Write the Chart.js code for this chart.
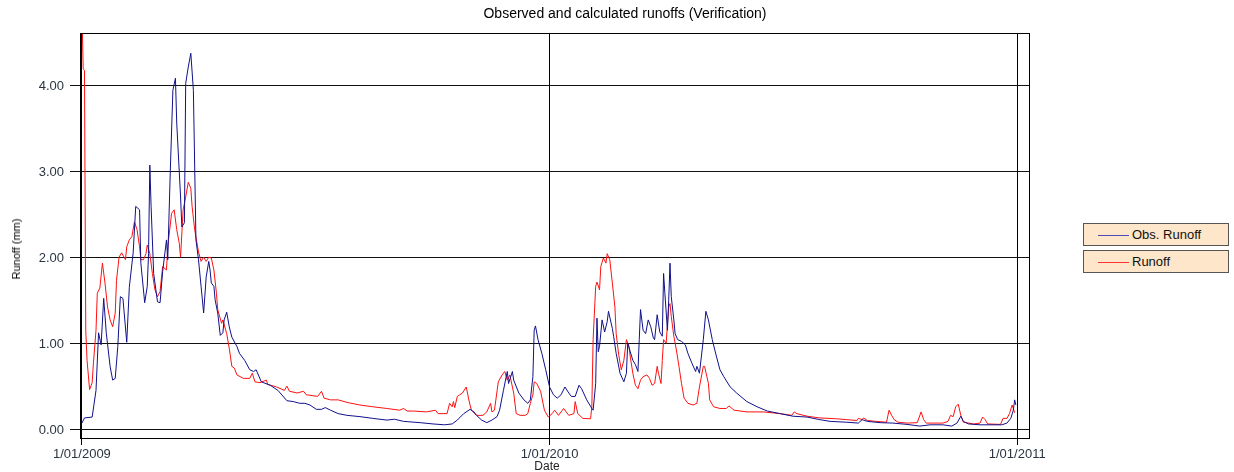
<!DOCTYPE html>
<html>
<head>
<script src="https://cdn.jsdelivr.net/npm/chart.js@4.4.1/dist/chart.umd.min.js"></script>
<style>
    body {
        margin: 0;
        background: #fff;
        font-family: "Liberation Sans", Arial, sans-serif;
    }
    #wrap {
        position: relative;
        width: 1234px;
        height: 472px;
    }
    #chart {
        position: absolute;
        left: 0;
        top: 0;
    }
    #title {
        position: absolute;
        left: 0;
        width: 1250px;
        top: 5px;
        text-align: center;
        font-size: 14px;
        color: #000;
    }
    #y-title {
        position: absolute;
        left: 16px;
        top: 249px;
        transform: translate(-50%, -50%) rotate(-90deg);
        font-size: 11px;
        white-space: nowrap;
        color: #000;
    }
    #x-title {
        position: absolute;
        left: 547px;
        top: 466px;
        transform: translate(-50%, -50%);
        font-size: 12px;
        color: #222;
    }
    .legend-item {
        position: absolute;
        left: 1083px;
        width: 144px;
        height: 21px;
        background: #fde6c9;
        border: 1px solid #555;
        font-size: 13px;
        color: #111;
        line-height: 21px;
    }
    .legend-item span.line {
        display: inline-block;
        width: 31px;
        height: 1px;
        margin: 0 3px 0 14px;
        vertical-align: middle;
    }
</style>
</head>
<body>
<div id="wrap">
    <canvas id="chart" width="1234" height="472"></canvas>
    <div id="title">Observed and calculated runoffs (Verification)</div>
    <div id="y-title">Runoff (mm)</div>
    <div id="x-title">Date</div>
    <div class="legend-item" style="top:223px"><span class="line" style="background:#4a4ab4"></span>Obs. Runoff</div>
    <div class="legend-item" style="top:250px"><span class="line" style="background:#ff3030"></span>Runoff</div>
</div>
<script>
// days counted from 1 Jan 2009
const tickDays = [0, 365, 730];
const tickLabels = ['1/01/2009', '1/01/2010', '1/01/2011'];
const yTicks = [0, 1, 2, 3, 4];

// observed runoff (mm)
const obsDays = [
    0, 2, 8, 11, 13, 15, 17, 19, 22, 24, 26, 28, 30, 32, 35, 37, 40, 42, 45, 46,
    49, 51, 52, 53, 54, 56, 59, 61, 63, 66, 67, 69, 71, 73, 74, 77, 78, 80, 81, 83,
    85, 87, 89, 91, 93, 95, 97, 99, 100, 101, 103, 104, 106, 108, 110, 111, 113, 115, 117, 121,
    123, 127, 131, 134, 136, 140, 147, 153, 160, 165, 170, 174, 178, 183, 187, 190, 194, 200, 207, 217,
    227, 238, 244, 251, 264, 274, 283, 289, 293, 298, 303, 306, 308, 312, 316, 320, 324, 326, 329, 332,
    333, 336, 337, 341, 345, 348, 350, 352, 353, 354, 356, 359, 362, 365, 368, 371, 374, 377, 380, 382,
    385, 388, 390, 394, 398, 399, 401, 402, 403, 404, 406, 408, 410, 411, 414, 415, 417, 420, 423, 425,
    426, 428, 430, 432, 434, 435, 436, 438, 440, 442, 444, 446, 447, 449, 451, 453, 454, 455, 457, 458,
    459, 460, 462, 463, 465, 468, 471, 473, 476, 479, 480, 482, 485, 487, 489, 492, 495, 498, 501, 506,
    511, 519, 527, 535, 545, 555, 566, 576, 584, 597, 606, 609, 613, 623, 633, 644, 654, 662, 672, 679,
    683, 686, 688, 692, 701, 712, 718, 722, 725, 727, 728, 729
];
const obsRunoff = [
    0.08, 0.14, 0.15, 0.46, 1.13, 0.99, 1.53, 1.13, 0.74, 0.58, 0.60, 0.97, 1.55, 1.53, 1.02, 1.66, 2.06, 2.60, 2.56, 1.94,
    1.48, 1.67, 2.05, 3.08, 2.60, 1.82, 1.49, 1.48, 1.84, 2.21, 1.98, 3.02, 3.95, 4.09, 3.57, 2.71, 2.36, 2.41, 4.03, 4.22,
    4.38, 3.95, 2.21, 1.98, 1.67, 1.36, 1.78, 1.96, 1.86, 1.71, 1.67, 1.51, 1.36, 1.10, 1.13, 1.28, 1.37, 1.20, 1.08, 0.97,
    0.89, 0.81, 0.70, 0.68, 0.70, 0.56, 0.52, 0.46, 0.34, 0.33, 0.31, 0.31, 0.29, 0.24, 0.24, 0.26, 0.23, 0.19, 0.17, 0.155,
    0.135, 0.115, 0.125, 0.10, 0.085, 0.07, 0.06, 0.07, 0.115, 0.19, 0.24, 0.21, 0.17, 0.115, 0.085, 0.115, 0.155, 0.23, 0.46, 0.68,
    0.54, 0.68, 0.58, 0.43, 0.35, 0.31, 0.35, 0.62, 1.16, 1.21, 1.05, 0.89, 0.70, 0.50, 0.41, 0.37, 0.41, 0.50, 0.43, 0.39,
    0.39, 0.52, 0.48, 0.35, 0.25, 0.23, 0.54, 1.30, 0.91, 0.97, 1.28, 1.14, 1.26, 1.38, 1.18, 1.09, 0.89, 0.66, 0.56, 0.66,
    1.01, 0.91, 0.81, 0.76, 0.68, 1.05, 1.40, 1.16, 1.12, 1.28, 1.20, 1.07, 1.05, 1.34, 1.14, 1.09, 1.82, 1.59, 1.16, 1.51,
    1.94, 1.55, 1.28, 1.12, 1.05, 1.03, 0.99, 0.89, 0.78, 0.68, 0.74, 0.66, 1.05, 1.38, 1.28, 1.05, 0.87, 0.70, 0.62, 0.50,
    0.43, 0.33, 0.27, 0.22, 0.19, 0.16, 0.15, 0.12, 0.10, 0.09, 0.08, 0.12, 0.10, 0.085, 0.08, 0.065, 0.045, 0.06, 0.06, 0.045,
    0.08, 0.16, 0.10, 0.07, 0.06, 0.06, 0.06, 0.08, 0.135, 0.23, 0.35, 0.29
];

// calculated runoff (mm)
const calcDays = [
    0, 1, 2, 3, 4, 6, 8, 9, 11, 12, 14, 16, 18, 20, 22, 24, 26, 27, 29, 31,
    34, 35, 37, 39, 41, 43, 45, 46, 48, 50, 51, 53, 55, 57, 59, 61, 63, 66, 67, 70,
    72, 74, 76, 77, 79, 81, 83, 85, 86, 88, 91, 93, 95, 97, 99, 101, 103, 105, 106, 109,
    110, 113, 115, 117, 119, 121, 126, 131, 133, 135, 139, 144, 145, 152, 158, 160, 162, 168, 173, 175,
    184, 187, 189, 194, 200, 207, 217, 227, 238, 248, 251, 254, 259, 269, 276, 278, 285, 287, 289, 290,
    291, 293, 295, 297, 300, 302, 304, 308, 313, 316, 319, 320, 322, 325, 328, 330, 332, 334, 337, 339,
    342, 346, 348, 350, 352, 353, 355, 358, 361, 364, 367, 369, 372, 376, 380, 384, 385, 387, 391, 397,
    398, 399, 401, 402, 404, 405, 407, 409, 410, 412, 414, 416, 417, 419, 421, 423, 425, 427, 428, 430,
    432, 434, 436, 438, 441, 443, 445, 447, 449, 450, 452, 453, 454, 456, 458, 459, 460, 462, 464, 466,
    468, 470, 473, 477, 480, 482, 485, 486, 489, 490, 493, 498, 503, 505, 509, 519, 532, 545, 554, 556,
    558, 566, 576, 589, 597, 605, 606, 609, 610, 613, 620, 628, 630, 632, 634, 637, 644, 652, 655, 657,
    659, 672, 676, 678, 680, 682, 684, 686, 688, 696, 701, 703, 705, 707, 717, 719, 722, 724, 726, 727,
    728
];
const calcRunoff = [
    4.9, 4.2, 4.18, 1.16, 0.81, 0.47, 0.55, 0.78, 1.16, 1.59, 1.65, 1.94, 1.71, 1.43, 1.28, 1.20, 1.36, 1.74, 2.01, 2.06,
    1.98, 2.13, 2.21, 2.25, 2.42, 2.33, 2.13, 1.98, 1.98, 2.05, 2.15, 2.05, 1.82, 1.63, 1.55, 1.61, 1.90, 1.86, 2.13, 2.52,
    2.56, 2.33, 2.17, 2.01, 2.56, 2.71, 2.88, 2.81, 2.60, 2.33, 2.07, 1.96, 2.01, 1.96, 2.01, 2.00, 1.86, 1.59, 1.40, 1.24,
    1.28, 1.12, 0.95, 0.74, 0.72, 0.64, 0.60, 0.60, 0.66, 0.56, 0.55, 0.58, 0.53, 0.50, 0.46, 0.51, 0.45, 0.43, 0.45, 0.41,
    0.39, 0.45, 0.37, 0.35, 0.35, 0.32, 0.29, 0.27, 0.25, 0.23, 0.25, 0.22, 0.22, 0.21, 0.23, 0.19, 0.19, 0.31, 0.27, 0.33,
    0.26, 0.39, 0.41, 0.43, 0.50, 0.35, 0.23, 0.17, 0.17, 0.21, 0.31, 0.21, 0.23, 0.56, 0.64, 0.68, 0.58, 0.64, 0.43, 0.19,
    0.17, 0.17, 0.19, 0.31, 0.41, 0.56, 0.54, 0.45, 0.23, 0.15, 0.19, 0.23, 0.17, 0.25, 0.17, 0.19, 0.33, 0.19, 0.135, 0.13,
    0.27, 1.05, 1.67, 1.72, 1.63, 1.90, 2.00, 1.94, 2.05, 1.98, 1.71, 1.43, 1.12, 0.87, 0.70, 0.81, 1.05, 0.97, 0.85, 0.66,
    0.52, 0.48, 0.58, 0.62, 0.64, 0.60, 0.52, 0.54, 0.74, 0.66, 0.54, 0.81, 1.05, 1.01, 1.43, 1.47, 1.32, 1.09, 0.93, 0.74,
    0.54, 0.37, 0.31, 0.29, 0.31, 0.50, 0.74, 0.74, 0.54, 0.35, 0.27, 0.25, 0.25, 0.28, 0.23, 0.21, 0.21, 0.19, 0.17, 0.21,
    0.19, 0.16, 0.14, 0.13, 0.12, 0.11, 0.135, 0.12, 0.14, 0.11, 0.10, 0.09, 0.23, 0.17, 0.12, 0.09, 0.08, 0.085, 0.21, 0.12,
    0.08, 0.08, 0.10, 0.17, 0.155, 0.27, 0.30, 0.17, 0.09, 0.07, 0.08, 0.15, 0.12, 0.07, 0.065, 0.135, 0.135, 0.19, 0.29, 0.25,
    0.20
];

function toPoints(days, vals) {
    return days.map((d, i) => ({ x: d, y: vals[i] }));
}

// black box round the plot area
const frame = {
    id: 'frame',
    afterDatasetsDraw(chart) {
        const a = chart.chartArea;
        const ctx = chart.ctx;
        ctx.save();
        ctx.strokeStyle = '#000';
        ctx.lineWidth = 1;
        ctx.strokeRect(Math.round(a.left) + 0.5, Math.round(a.top) + 0.5,
            Math.round(a.right - a.left) - 1, Math.round(a.bottom - a.top) - 1);
        ctx.restore();
    }
};

const ctx = document.getElementById('chart').getContext('2d');
new Chart(ctx, {
    type: 'line',
    data: {
        datasets: [{
            label: 'Obs. Runoff',
            data: toPoints(obsDays, obsRunoff),
            borderColor: '#10108c',
            borderWidth: 1,
            pointRadius: 0,
            tension: 0
        }, {
            label: 'Runoff',
            data: toPoints(calcDays, calcRunoff),
            borderColor: '#ff1010',
            borderWidth: 1,
            pointRadius: 0,
            tension: 0
        }]
    },
    options: {
        responsive: false,
        animation: false,
        layout: {
            padding: { top: 33, right: 204, left: 0, bottom: 0 }
        },
        plugins: {
            legend: { display: false },
            title: { display: false },
            tooltip: { enabled: false }
        },
        scales: {
            x: {
                type: 'linear',
                min: -1.5,
                max: 740,
                afterFit: s => { s.height = 33; },
                afterBuildTicks: s => { s.ticks = tickDays.map(v => ({ value: v })); },
                ticks: {
                    autoSkip: false,
                    maxRotation: 0,
                    padding: 2,
                    color: '#2a3440',
                    font: { family: 'Liberation Sans', size: 13 },
                    callback: v => tickLabels[tickDays.indexOf(v)]
                },
                grid: { color: '#000', lineWidth: 1, tickLength: 6 },
                border: { display: false }
            },
            y: {
                min: -0.105,
                max: 4.616,
                afterFit: s => { s.width = 80; },
                afterBuildTicks: s => { s.ticks = yTicks.map(v => ({ value: v })); },
                ticks: {
                    padding: 6,
                    color: '#2a3440',
                    font: { family: 'Liberation Sans', size: 13 },
                    callback: v => v.toFixed(2)
                },
                grid: { color: '#111', lineWidth: 1, tickLength: 10 },
                border: { display: false }
            }
        }
    },
    plugins: [frame]
});
</script>
</body>
</html>
